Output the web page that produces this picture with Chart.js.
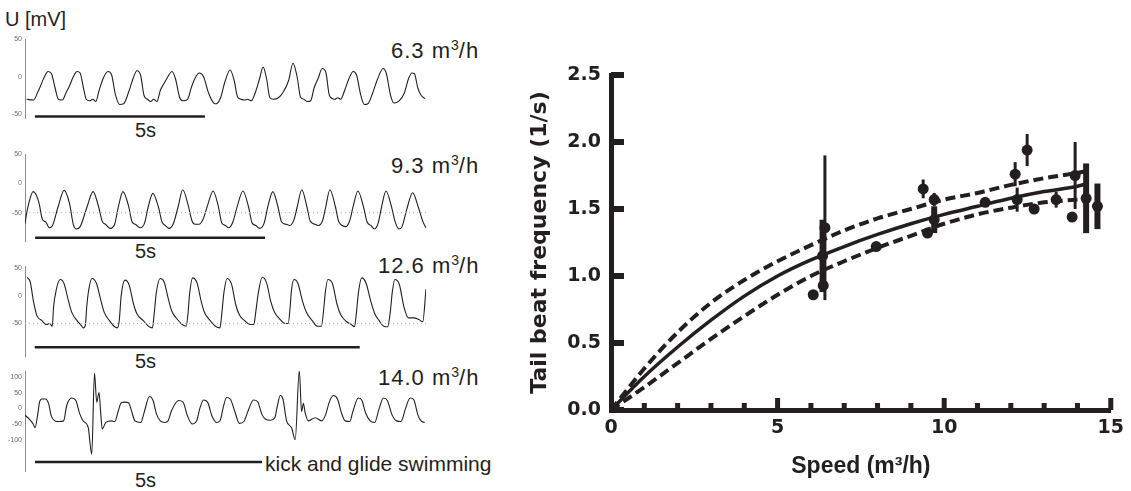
<!DOCTYPE html>
<html>
<head>
<meta charset="utf-8">
<script src="https://cdn.jsdelivr.net/npm/chart.js@4.4.1/dist/chart.umd.min.js"></script>
<style>
  body { margin: 0; width: 1131px; height: 491px; overflow: hidden; position: relative; background: #fff;
         font-family: "Liberation Sans", Arial, sans-serif; color: #231f20; }
  canvas { position: absolute; }
  .lbl { position: absolute; white-space: nowrap; line-height: 1; }
  .speed { font-size: 22px; letter-spacing: 1px; }
  .speed sup { font-size: 14px; vertical-align: 8px; line-height: 0; letter-spacing: 0; }
  .sec { font-size: 20px; }
</style>
</head>
<body>
<div class="lbl" style="left:5px;top:9px;font-size:20px">U [mV]</div>

<div class="lbl speed" style="left:391px;top:40px">6.3 m<sup>3</sup>/h</div>
<div class="lbl speed" style="left:391px;top:155px">9.3 m<sup>3</sup>/h</div>
<div class="lbl speed" style="left:378px;top:255px">12.6 m<sup>3</sup>/h</div>
<div class="lbl speed" style="left:378px;top:367px">14.0 m<sup>3</sup>/h</div>

<div class="lbl sec" style="left:135px;top:120px">5s</div>
<div class="lbl sec" style="left:135px;top:241px">5s</div>
<div class="lbl sec" style="left:135px;top:351px">5s</div>
<div class="lbl sec" style="left:135px;top:470px">5s</div>
<div class="lbl" style="left:265px;top:453px;font-size:21px">kick and glide swimming</div>

<canvas id="p1" width="440" height="94" style="left:0;top:32px"></canvas>
<canvas id="p2" width="440" height="102" style="left:0;top:147px"></canvas>
<canvas id="p3" width="440" height="105" style="left:0;top:259px"></canvas>
<canvas id="p4" width="440" height="115" style="left:0;top:364px"></canvas>
<canvas id="chart" width="611" height="451" style="left:520px;top:40px"></canvas>

<script>
// ---- traces (time in s, voltage in mV) ----
const trace1Time = [0.05,0.25,0.38,0.45,0.55,0.68,0.78,0.88,0.98,1.1,1.2,1.3,1.42,1.53,1.62,1.72,1.8,1.9,2.0,2.08,2.18,2.3,2.44,2.55,2.65,2.78,2.9,3.05,3.18,3.29,3.4,3.5,3.6,3.7,3.78,3.88,3.98,4.1,4.2,4.32,4.42,4.55,4.65,4.78,4.9,5.0,5.12,5.25,5.4,5.55,5.62,5.75,5.87,6.03,6.15,6.25,6.35,6.45,6.55,6.65,6.78,6.9,7.0,7.1,7.2,7.3,7.45,7.6,7.75,7.88,8.0,8.1,8.2,8.3,8.4,8.5,8.62,8.74,8.85,8.95,9.1,9.2,9.28,9.4,9.52,9.65,9.75,9.87,9.98,10.08,10.22,10.35,10.53,10.62,10.75,10.85,11.0,11.15,11.28,11.38,11.45,11.55,11.65,11.76];
const trace1Volt = [-30,-31,-20,-13,-2,7,4,-14,-30,-31,-22,-13,0,7,5,-15,-30,-32,-30,-33,-18,-2,7,2,-22,-37,-36,-20,-2,8,2,-25,-30,-33,-30,-33,-18,-8,0,7,-2,-28,-32,-30,-13,-2,5,0,-22,-35,-36,-28,-8,9,-5,-27,-30,-31,-30,-32,-20,-2,13,-2,-28,-30,-28,-20,-5,18,0,-27,-30,-33,-32,-15,-2,11,5,-25,-30,-28,-30,-18,-3,7,2,-24,-37,-36,-22,-5,11,5,-25,-35,-32,-22,-2,5,4,-15,-25,-29];

const trace2Time = [0,0.05,0.18,0.3,0.38,0.45,0.53,0.6,0.72,0.85,0.97,1.05,1.12,1.2,1.35,1.48,1.6,1.68,1.75,1.85,1.95,2.03,2.13,2.25,2.33,2.4,2.5,2.6,2.68,2.78,2.9,2.98,3.05,3.13,3.22,3.33,3.43,3.55,3.63,3.7,3.78,3.88,3.98,4.09,4.2,4.28,4.36,4.43,4.52,4.62,4.74,4.86,4.94,5.02,5.1,5.2,5.28,5.39,5.5,5.58,5.68,5.76,5.85,5.92,6.02,6.13,6.2,6.3,6.38,6.47,6.54,6.63,6.75,6.82,6.9,6.98,7.06,7.14,7.24,7.36,7.44,7.52,7.6,7.68,7.76,7.85,7.97,8.05,8.13,8.2,8.3,8.43,8.55,8.65,8.72];
const trace2Volt = [-69,-45,-14,-32,-62,-66,-76,-72,-40,-12,-35,-70,-78,-74,-40,-14,-40,-65,-70,-77,-70,-40,-14,-38,-66,-70,-76,-68,-40,-17,-40,-66,-72,-77,-70,-40,-11,-38,-64,-70,-70,-60,-35,-13,-38,-68,-72,-76,-66,-38,-13,-40,-68,-72,-77,-68,-40,-14,-40,-66,-70,-72,-62,-40,-11,-40,-64,-70,-72,-64,-40,-11,-40,-65,-72,-74,-64,-38,-13,-40,-66,-72,-78,-68,-38,-13,-40,-66,-78,-74,-45,-16,-40,-65,-76];

const trace3Time = [0.03,0.08,0.13,0.18,0.26,0.33,0.38,0.42,0.44,0.48,0.54,0.6,0.67,0.72,0.8,0.86,0.9,0.93,0.95,0.98,1.03,1.1,1.17,1.22,1.3,1.37,1.42,1.45,1.48,1.54,1.6,1.67,1.72,1.82,1.9,1.96,1.99,2.02,2.08,2.14,2.21,2.26,2.34,2.42,2.48,2.51,2.53,2.58,2.65,2.71,2.76,2.85,2.93,3.0,3.03,3.06,3.11,3.18,3.24,3.3,3.38,3.46,3.52,3.55,3.59,3.65,3.72,3.78,3.84,3.92,4.0,4.05,4.08,4.1,4.14,4.2,4.27,4.33,4.42,4.5,4.56,4.6,4.62,4.66,4.73,4.8,4.86,4.95,5.02,5.07,5.1,5.13,5.18,5.25,5.32,5.38,5.45,5.52,5.58,5.62,5.65,5.69,5.76,5.83,5.9,5.98,6.06,6.12,6.17];
const trace3Volt = [33,25,-10,-35,-45,-52,-50,-55,-20,10,29,22,-10,-30,-45,-53,-58,-52,-20,10,31,22,-10,-30,-45,-55,-58,-45,0,28,20,-15,-32,-45,-55,-58,-30,5,31,25,-8,-28,-42,-52,-55,-30,0,32,22,-10,-30,-45,-55,-58,-30,5,31,20,-15,-35,-45,-52,-52,-30,5,33,22,-10,-30,-42,-50,-50,-20,10,29,22,-10,-30,-45,-55,-55,-20,5,29,22,-15,-35,-47,-52,-56,-30,5,32,22,-10,-32,-45,-55,-56,-30,5,29,20,-20,-40,-40,-43,-47,12];

const trace4Time = [0,0.1,0.18,0.22,0.28,0.32,0.37,0.45,0.52,0.58,0.66,0.75,0.85,0.92,1.03,1.12,1.2,1.28,1.39,1.47,1.53,1.58,1.63,1.67,1.7,1.78,1.9,1.98,2.05,2.12,2.2,2.28,2.35,2.42,2.55,2.62,2.74,2.82,2.9,2.98,3.08,3.15,3.22,3.38,3.48,3.58,3.68,3.78,3.85,3.93,4.02,4.12,4.22,4.3,4.36,4.44,4.52,4.62,4.72,4.82,4.92,5.03,5.12,5.22,5.3,5.4,5.5,5.56,5.62,5.68,5.76,5.87,5.95,6.04,6.09,6.13,6.17,6.24,6.39,6.53,6.62,6.7,6.79,6.88,6.97,7.05,7.15,7.22,7.34,7.42,7.5,7.6,7.7,7.8,7.89,7.98,8.08,8.18,8.28,8.38,8.48,8.56,8.65,8.72,8.8];
const trace4Volt = [-22,-35,-50,-62,-20,20,30,30,15,-25,-40,-42,-40,10,33,25,-15,-40,-60,-147,113,20,51,-20,-66,-45,-40,-42,-10,18,20,18,-10,-40,-45,-15,38,25,-20,-40,-45,-40,-10,25,20,-25,-50,-40,0,27,20,-25,-45,-38,0,35,30,-10,-48,-42,-5,27,22,-20,-35,-38,-30,10,41,30,-40,-62,-100,122,-10,16,-15,-40,-30,-40,-20,20,41,30,-15,-40,-42,-10,33,25,-15,-40,-45,0,33,25,-20,-40,-42,0,33,28,-20,-40,-45];

// per panel: y range, tick labels, time span, 5 s scale bar start and level
const panelYMin = [-56, -100, -110, -203];
const panelYMax = [50, 50, 53, 119];
const panelTicks = [[50, 0, -50], [50, 0, -50], [50, 0, -50], [100, 50, 0, -50, -100]];
const panelTimeSpan = [11.79, 8.72, 6.17, 8.83];
const scaleBarStart = [0.29, 0.22, 0.15, 0.22];
const scaleBarLevel = [-53, -93, -93, -172];
const scaleBarSeconds = 5;
const dottedLevel = [null, -50, -50, null];

// ---- tail beat frequency vs speed ----
const speed = [6.07, 6.37, 6.42, 6.35, 7.96, 9.37, 9.7, 9.5, 9.7, 11.23, 12.49, 12.13, 12.19, 12.7, 13.36, 13.84, 13.93, 14.26, 14.6];
const freq = [0.86, 0.93, 1.36, 1.15, 1.22, 1.65, 1.57, 1.32, 1.42, 1.55, 1.94, 1.76, 1.57, 1.50, 1.57, 1.44, 1.75, 1.58, 1.52];
const freqSd = [0, 0, 0.54, 0.27, 0, 0.07, 0.05, 0, 0.1, 0, 0.12, 0.09, 0.09, 0, 0.06, 0, 0.25, 0.26, 0.17];

const fitX = [0, 1, 2, 3, 4, 5, 6, 7, 8, 9, 10, 11, 12, 13, 14, 14.3];
const fitMean = [0, 0.25, 0.47, 0.67, 0.85, 1.00, 1.12, 1.22, 1.31, 1.39, 1.46, 1.52, 1.58, 1.63, 1.67, 1.69];
const upperX = [0, 1, 2, 3, 4, 5, 6, 7, 8, 9, 10, 11, 12, 13, 14, 14.2];
const upperY = [0, 0.31, 0.58, 0.80, 0.97, 1.11, 1.23, 1.34, 1.43, 1.50, 1.57, 1.62, 1.68, 1.73, 1.77, 1.78];
const lowerX = [0, 1, 2, 3, 4, 5, 6, 7, 8, 9, 10, 11, 12, 13, 14];
const lowerY = [0, 0.17, 0.35, 0.53, 0.70, 0.86, 1.00, 1.11, 1.21, 1.30, 1.39, 1.46, 1.51, 1.55, 1.57];

const xTickValues = [0, 5, 10, 15];
const xMinorValues = [1, 2, 3, 4, 6, 7, 8, 9, 11, 12, 13, 14];
const yTickValues = [0, 0.5, 1.0, 1.5, 2.0, 2.5];
const yTickLabels = ['0.0', '0.5', '1.0', '1.5', '2.0', '2.5'];

const INK = '#231f20';
// thick error bars belong to the pooled points
const thickBars = [3, 8, 17, 18];

const toPoints = (xs, ys) => xs.map((x, i) => ({ x: x, y: ys[i] }));

function tracePanel(id, k, times, volts) {
  const datasets = [];
  if (dottedLevel[k] !== null) {
    datasets.push({
      data: [{ x: 0, y: dottedLevel[k] }, { x: panelTimeSpan[k], y: dottedLevel[k] }],
      showLine: true, borderColor: '#b5b5b5', borderWidth: 1, borderDash: [1, 3], pointRadius: 0
    });
  }
  datasets.push({
    data: toPoints(times, volts),
    showLine: true, borderColor: INK, borderWidth: 1.1, pointRadius: 0,
    cubicInterpolationMode: 'monotone'
  });
  datasets.push({
    data: [{ x: scaleBarStart[k], y: scaleBarLevel[k] }, { x: scaleBarStart[k] + scaleBarSeconds, y: scaleBarLevel[k] }],
    showLine: true, borderColor: INK, borderWidth: 2.5, pointRadius: 0
  });

  new Chart(document.getElementById(id), {
    type: 'scatter',
    data: { datasets: datasets },
    options: {
      responsive: false,
      animation: false,
      events: [],
      layout: { padding: { top: 6, bottom: 6, left: 0, right: 14 } },
      plugins: { legend: { display: false }, tooltip: { enabled: false } },
      scales: {
        x: { type: 'linear', display: false, min: 0, max: panelTimeSpan[k] },
        y: {
          min: panelYMin[k], max: panelYMax[k],
          afterBuildTicks: s => { s.ticks = panelTicks[k].map(v => ({ value: v })); },
          afterFit: s => { s.width = 25; },
          grid: { display: false, drawTicks: false },
          border: { color: '#8c8c8c', width: 1 },
          ticks: { color: '#6a6a6a', padding: 3, font: { family: 'Liberation Sans', size: 7 } }
        }
      }
    }
  });
}

tracePanel('p1', 0, trace1Time, trace1Volt);
tracePanel('p2', 1, trace2Time, trace2Volt);
tracePanel('p3', 2, trace3Time, trace3Volt);
tracePanel('p4', 3, trace4Time, trace4Volt);

// error bars under the dots, inward tick marks on top
const errorBars = {
  id: 'errorBars',
  beforeDatasetsDraw(chart) {
    const { ctx, scales: { x, y } } = chart;
    ctx.save();
    ctx.strokeStyle = INK;
    ctx.lineCap = 'butt';
    speed.forEach((s, i) => {
      if (!freqSd[i]) return;
      const px = x.getPixelForValue(s);
      ctx.lineWidth = thickBars.includes(i) ? 6 : 3;
      ctx.beginPath();
      ctx.moveTo(px, y.getPixelForValue(freq[i] + freqSd[i]));
      ctx.lineTo(px, y.getPixelForValue(freq[i] - freqSd[i]));
      ctx.stroke();
    });
    ctx.restore();
  }
};

const inwardTicks = {
  id: 'inwardTicks',
  afterDraw(chart) {
    const { ctx, scales: { x, y }, chartArea: a } = chart;
    ctx.save();
    ctx.fillStyle = INK;
    xMinorValues.forEach(v => {
      const px = x.getPixelForValue(v);
      ctx.fillRect(px - 2.5, a.bottom - 7, 5, 7);
    });
    xTickValues.forEach(v => {
      const px = x.getPixelForValue(v);
      if (v === 0) return;
      ctx.fillRect(px - 2.5, a.bottom - 12, 5, 12);
    });
    yTickValues.forEach(v => {
      const py = y.getPixelForValue(v);
      ctx.fillRect(a.left, py - 3, 13, 6);
    });
    ctx.restore();
  }
};

new Chart(document.getElementById('chart'), {
  type: 'scatter',
  data: {
    datasets: [
      { data: toPoints(upperX, upperY), showLine: true, borderColor: INK, borderWidth: 4, borderDash: [10, 5], pointRadius: 0, cubicInterpolationMode: 'monotone' },
      { data: toPoints(lowerX, lowerY), showLine: true, borderColor: INK, borderWidth: 4, borderDash: [10, 5], pointRadius: 0, cubicInterpolationMode: 'monotone' },
      { data: toPoints(fitX, fitMean), showLine: true, borderColor: INK, borderWidth: 3.5, pointRadius: 0, cubicInterpolationMode: 'monotone' },
      { data: toPoints(speed, freq), showLine: false, pointRadius: 5.5, pointBackgroundColor: INK, pointBorderWidth: 0 }
    ]
  },
  options: {
    responsive: false,
    animation: false,
    events: [],
    layout: { padding: { top: 35, right: 19, left: 0, bottom: 0 } },
    plugins: { legend: { display: false }, tooltip: { enabled: false } },
    scales: {
      x: {
        type: 'linear', min: 0, max: 15,
        afterBuildTicks: s => { s.ticks = xTickValues.map(v => ({ value: v })); },
        afterFit: s => { s.height = 81; },
        grid: { display: false, drawTicks: false },
        border: { color: INK, width: 5 },
        ticks: { color: INK, padding: 7, font: { family: 'DejaVu Sans', size: 19, weight: 'bold' } },
        title: { display: true, text: 'Speed (m³/h)', color: INK, padding: { top: 0, bottom: 11 },
                 font: { family: 'Liberation Sans', size: 23, weight: 'bold' } }
      },
      y: {
        min: 0, max: 2.5,
        afterBuildTicks: s => { s.ticks = yTickValues.map(v => ({ value: v })); },
        afterFit: s => { s.width = 91; },
        grid: { display: false, drawTicks: false },
        border: { color: INK, width: 5 },
        ticks: { color: INK, padding: 10, font: { family: 'DejaVu Sans', size: 19, weight: 'bold' },
                 callback: (v, i) => yTickLabels[i] },
        title: { display: true, text: 'Tail beat frequency (1/s)', color: INK, padding: { top: 7, bottom: 0 },
                 font: { family: 'DejaVu Sans', size: 22, weight: 'bold' } }
      }
    }
  },
  plugins: [errorBars, inwardTicks]
});
</script>
</body>
</html>
